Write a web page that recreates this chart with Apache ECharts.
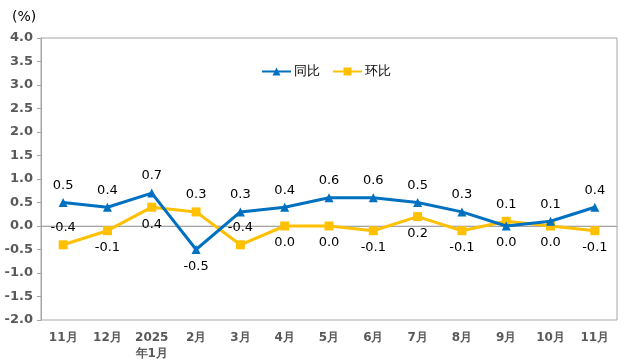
<!DOCTYPE html>
<html><head><meta charset="utf-8">
<script src="https://cdn.jsdelivr.net/npm/echarts@6/dist/echarts.min.js"></script>
<style>html,body{margin:0;padding:0;background:#fff}#c{width:630px;height:364px}</style>
</head><body><div id="c"></div>
<script>
const categories = ['11月','12月','2025\n年1月','2月','3月','4月','5月','6月','7月','8月','9月','10月','11月'];
const yoy = [0.5, 0.4, 0.7, -0.5, 0.3, 0.4, 0.6, 0.6, 0.5, 0.3, 0.0, 0.1, 0.4];
const mom = [-0.4, -0.1, 0.4, 0.3, -0.4, 0.0, 0.0, -0.1, 0.2, -0.1, 0.1, 0.0, -0.1];
const yoyLabelPos = ['top','top','top','bottom','top','top','top','top','top','top','bottom','top','top'];
const momLabelPos = ['top','bottom','bottom','top','top','bottom','bottom','bottom','bottom','bottom','top','bottom','bottom'];

const chart = echarts.init(document.getElementById('c'));
const font = 'DejaVu Sans, sans-serif';
function mk(vals, pos){
  return vals.map((v,i)=>({value:v, label:{position:pos[i]}}));
}
chart.setOption({
  animation:false,
  textStyle:{fontFamily:font},
  title:{text:'(%)', left:7, top:5, textStyle:{fontSize:14, fontWeight:'normal', color:'#000', fontFamily:font}},
  legend:{top:60, left:256, itemWidth:29, itemHeight:10, itemGap:12,
    textStyle:{fontSize:13, color:'#000', fontFamily:font, padding:[0,0,0,-2]},
    data:['同比','环比']},
  grid:{left:41, right:13, top:38, bottom:44, show:true, borderColor:'#a6a6a6', borderWidth:1},
  xAxis:{type:'category', data:categories, boundaryGap:true,
    axisLine:{lineStyle:{color:'#a6a6a6'}}, axisTick:{show:false},
    axisLabel:{fontSize:12, fontWeight:'bold', color:'#595959', margin:10, lineHeight:16, fontFamily:font, interval:0}},
  yAxis:{type:'value', min:-2, max:4, interval:0.5,
    axisLine:{show:true, lineStyle:{color:'#a6a6a6'}}, axisTick:{show:true, length:4, lineStyle:{color:'#a6a6a6'}},
    splitLine:{show:false},
    axisLabel:{fontSize:13, fontWeight:'bold', color:'#595959', margin:8, formatter:v=>v.toFixed(1), fontFamily:font}},
  series:[
    {name:'同比', type:'line', data:mk(yoy,yoyLabelPos), symbol:'triangle', symbolSize:9,
     lineStyle:{width:3, color:'#0070C0'}, itemStyle:{color:'#0070C0'},
     label:{show:true, fontSize:13, color:'#000', distance:6, formatter:p=>p.value.toFixed(1)},
     markLine:{silent:true, symbol:'none', label:{show:false}, lineStyle:{color:'#d9d9d9', type:'solid', width:1.5}, data:[{yAxis:0}], z:0},
     z:3},
    {name:'环比', type:'line', data:mk(mom,momLabelPos), symbol:'rect', symbolSize:9,
     lineStyle:{width:3, color:'#FFC000'}, itemStyle:{color:'#FFC000'},
     label:{show:true, fontSize:13, color:'#000', distance:6, formatter:p=>p.value.toFixed(1)},
     z:2}
  ]
});
</script></body></html>
